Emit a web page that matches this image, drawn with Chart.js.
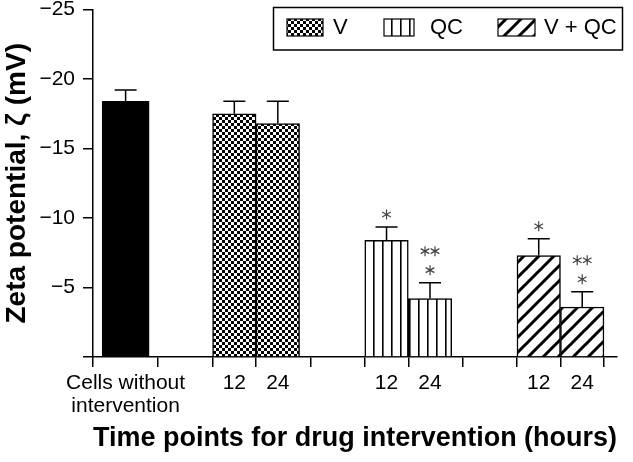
<!DOCTYPE html>
<html>
<head>
<meta charset="utf-8">
<script src="https://cdn.jsdelivr.net/npm/chart.js@4.4.1/dist/chart.umd.min.js"></script>
<style>
  body { margin: 0; background: #fff; }
  #wrap { width: 633px; height: 462px; }
</style>
</head>
<body>
<div id="wrap"><canvas id="zetaChart"></canvas></div>
<script>
// values (mV, more negative = higher bar)
const groupLabels = ['Cells without intervention', 'V', 'QC', 'V + QC'];
const slotPositions = [[0], [5, 7], [12, 14], [19, 21]];
const meanValues = [[-18.4], [-17.5, -16.8], [-8.4, -4.2], [-7.3, -3.6]];
const errorValues = [[0.8], [0.9, 1.6], [0.95, 1.15], [1.2, 1.1]];
const significance = [[[]], [[], []], [['*'], ['**', '*']], [['*'], ['**', '*']]];
const tickValues = [0, 3, 5, 7, 10, 12, 14, 17, 19, 21];
const tickLabels = [['Cells without', 'intervention'], '', '12', '24', '', '12', '24', '', '12', '24'];

const makePattern = (size, draw) => {
    const c = document.createElement('canvas');
    c.width = size; c.height = size;
    const g = c.getContext('2d');
    g.fillStyle = '#fff';
    g.fillRect(0, 0, size, size);
    draw(g);
    return g.createPattern(c, 'repeat');
};

const checker = makePattern(6, (g) => {
    g.fillStyle = '#000';
    g.fillRect(0, 0, 3, 3);
    g.fillRect(3, 3, 3, 3);
});
const vertical = makePattern(9, (g) => {
    g.fillStyle = '#000';
    g.fillRect(4, 0, 1.6, 9);
});
const hatch = makePattern(15, (g) => {
    g.strokeStyle = '#000';
    g.lineWidth = 3;
    g.beginPath();
    g.moveTo(0, 15); g.lineTo(15, 0);
    g.moveTo(-2, 2); g.lineTo(2, -2);
    g.moveTo(13, 17); g.lineTo(17, 13);
    g.stroke();
});
const fills = ['#000', checker, vertical, hatch];

const datasets = groupLabels.map((label, i) => ({
    label: label,
    data: slotPositions[i].map((x, j) => ({ x: x, y: meanValues[i][j] })),
    backgroundColor: fills[i],
    borderColor: '#000',
    borderWidth: 1.5,
    borderSkipped: 'start',
    barThickness: i === 0 ? 47 : 43.5,
    grouped: false
}));

const drawStar = (ctx, x, y, r) => {
    ctx.beginPath();
    for (let k = 0; k < 3; k++) {
        const a = Math.PI / 2 + k * Math.PI / 3;
        ctx.moveTo(x + r * Math.cos(a), y + r * Math.sin(a));
        ctx.lineTo(x - r * Math.cos(a), y - r * Math.sin(a));
    }
    ctx.stroke();
};

// error bars + asterisks
const errorBars = {
    id: 'errorBars',
    afterDatasetsDraw(chart) {
        const ctx = chart.ctx;
        const y = chart.scales.y;
        ctx.save();
        chart.data.datasets.forEach((ds, i) => {
            chart.getDatasetMeta(i).data.forEach((bar, j) => {
                const top = y.getPixelForValue(meanValues[i][j] - errorValues[i][j]);
                ctx.strokeStyle = '#000';
                ctx.lineWidth = 1.5;
                ctx.beginPath();
                ctx.moveTo(bar.x, bar.y);
                ctx.lineTo(bar.x, top);
                ctx.moveTo(bar.x - 11, top);
                ctx.lineTo(bar.x + 11, top);
                ctx.stroke();
                ctx.strokeStyle = '#444';
                ctx.lineWidth = 1.2;
                const rows = significance[i][j];
                rows.slice().reverse().forEach((s, r) => {
                    const cy = top - 12.5 - r * 19;
                    for (let n = 0; n < s.length; n++) {
                        drawStar(ctx, bar.x + (n - (s.length - 1) / 2) * 10, cy, 5);
                    }
                });
            });
        });
        ctx.restore();
    }
};

// boxed legend in the top right corner
const boxLegend = {
    id: 'boxLegend',
    afterDraw(chart) {
        const ctx = chart.ctx;
        const items = [
            { ds: 1, sx: 287, sw: 36, tx: 333 },
            { ds: 2, sx: 384, sw: 30, tx: 430 },
            { ds: 3, sx: 498, sw: 37, tx: 544 }
        ];
        ctx.save();
        ctx.strokeStyle = '#000';
        ctx.lineWidth = 1.5;
        ctx.strokeRect(273.5, 7.5, 349, 42.5);
        items.forEach((it) => {
            ctx.fillStyle = fills[it.ds];
            ctx.fillRect(it.sx, 19, it.sw, 17);
            ctx.lineWidth = 1.2;
            ctx.strokeRect(it.sx, 19, it.sw, 17);
            ctx.fillStyle = '#000';
            ctx.font = '22px "Liberation Sans", Arial, sans-serif';
            ctx.textBaseline = 'middle';
            ctx.fillText(chart.data.datasets[it.ds].label, it.tx, 28);
        });
        ctx.restore();
    }
};

Chart.defaults.font.family = '"Liberation Sans", Arial, sans-serif';
Chart.defaults.color = '#000';

new Chart(document.getElementById('zetaChart').getContext('2d'), {
    type: 'bar',
    data: { datasets: datasets },
    options: {
        responsive: true,
        maintainAspectRatio: false,
        animation: false,
        layout: { autoPadding: false, padding: { top: 9.5, right: 16, left: 0, bottom: 0 } },
        plugins: { legend: { display: false }, tooltip: { enabled: false } },
        scales: {
            x: {
                type: 'linear',
                min: -1.5,
                max: 22.6,
                offset: false,
                afterBuildTicks: (scale) => { scale.ticks = tickValues.map((v) => ({ value: v })); },
                afterFit: (scale) => {
                    scale.height = 105;
                    scale.paddingLeft = 0;
                    scale.paddingRight = 0;
                },
                ticks: {
                    autoSkip: false,
                    maxRotation: 0,
                    padding: 5,
                    font: { size: 21, lineHeight: 1.1 },
                    callback: (v) => tickLabels[tickValues.indexOf(v)]
                },
                grid: { drawOnChartArea: false, tickLength: 10, color: '#000', lineWidth: 1.5 },
                border: { color: '#000', width: 1.5 },
                title: {
                    display: true,
                    text: 'Time points for drug intervention (hours)',
                    font: { size: 27, weight: 'bold' },
                    padding: { top: 0, bottom: 7 }
                }
            },
            y: {
                min: -25,
                max: 0,
                reverse: true,
                afterFit: (scale) => {
                    scale.width = 93;
                    scale.paddingTop = 0;
                    scale.paddingBottom = 0;
                },
                ticks: {
                    stepSize: 5,
                    padding: 8,
                    font: { size: 21 },
                    callback: (v) => (v === 0 ? '' : '\u2212' + Math.abs(v))
                },
                grid: { drawOnChartArea: false, tickLength: 10, color: '#000', lineWidth: 1.5 },
                border: { color: '#000', width: 1.5 },
                title: {
                    display: true,
                    text: 'Zeta potential, \u03B6 (mV)',
                    font: { size: 28, weight: 'bold' },
                    padding: { top: 0, bottom: 0 }
                }
            }
        }
    },
    plugins: [errorBars, boxLegend]
});
</script>
</body>
</html>
